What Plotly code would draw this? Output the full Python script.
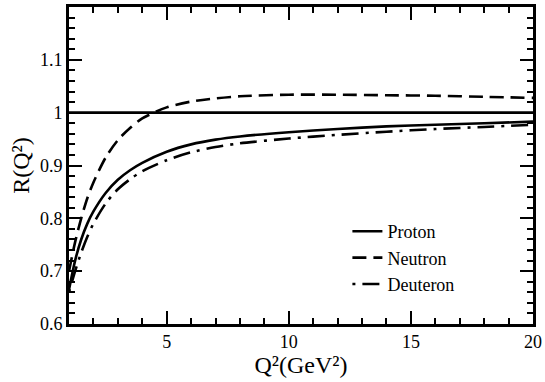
import plotly.graph_objects as go

# Q^2 grid (GeV^2) and ratios
q2 = [1, 1.25, 1.5, 1.75, 2, 2.5, 3, 3.5, 4, 5, 6, 7, 8, 10, 12, 14, 16, 18, 20]
proton = [0.665, 0.72, 0.76, 0.79, 0.813, 0.848, 0.873, 0.891, 0.905, 0.926, 0.940,
          0.949, 0.955, 0.963, 0.969, 0.974, 0.977, 0.980, 0.983]
neutron = [0.70, 0.755, 0.80, 0.838, 0.868, 0.915, 0.948, 0.971, 0.989, 1.010, 1.021,
           1.027, 1.031, 1.034, 1.034, 1.033, 1.032, 1.030, 1.028]
deuteron = [0.66, 0.70, 0.735, 0.765, 0.79, 0.828, 0.855, 0.874, 0.889, 0.910, 0.925,
            0.935, 0.942, 0.951, 0.958, 0.964, 0.969, 0.973, 0.977]
unity_x = [1, 20]
unity_y = [1, 1]

legend_names = ["Proton", "Neutron", "Deuteron"]
legend_dashes = ["solid", "14px,7px", "3px,7px,17px,7px"]

FONT = "Liberation Serif"
LW = 2.6

fig = go.Figure()
fig.add_trace(go.Scatter(x=unity_x, y=unity_y, mode="lines",
                         line=dict(color="black", width=LW), showlegend=False))
for name, ys, dash in zip(legend_names, [proton, neutron, deuteron], legend_dashes):
    fig.add_trace(go.Scatter(x=q2, y=ys, mode="lines", name=name,
                             line=dict(color="black", width=LW, dash=dash,
                                       shape="spline", smoothing=0.8)))

axis_common = dict(
    showline=True, linecolor="black", linewidth=LW, mirror="allticks",
    ticks="inside", ticklen=13, tickwidth=2, tickcolor="black",
    showgrid=False, zeroline=False, automargin=False,
    tickfont=dict(family=FONT, size=18, color="black"),
)

fig.update_xaxes(range=[1, 20], tick0=0, dtick=5,
                 minor=dict(dtick=1, ticks="inside", ticklen=6, tickwidth=2, tickcolor="black"),
                 title=dict(text="Q²(GeV²)", standoff=2,
                            font=dict(family=FONT, size=24, color="black")),
                 **axis_common)
fig.update_yaxes(range=[0.6, 1.2], tick0=0.6, dtick=0.1,
                 minor=dict(dtick=0.02, ticks="inside", ticklen=6, tickwidth=2, tickcolor="black"),
                 title=dict(text="R(Q²)", standoff=4,
                            font=dict(family=FONT, size=24, color="black")),
                 **axis_common)

fig.update_layout(
    width=545, height=382,
    margin=dict(l=69, r=12, t=7, b=58),
    template="none",
    plot_bgcolor="rgba(0,0,0,0)", paper_bgcolor="white",
    showlegend=True,
    legend=dict(x=0.6, y=0.35, xanchor="left", yanchor="top",
                bgcolor="rgba(0,0,0,0)", borderwidth=0, tracegroupgap=0,
                font=dict(family=FONT, size=18, color="black")),
)

fig.write_html("out.html", config={"displayModeBar": False},
               post_script="document.body.style.margin='0';document.body.style.overflow='hidden';")
